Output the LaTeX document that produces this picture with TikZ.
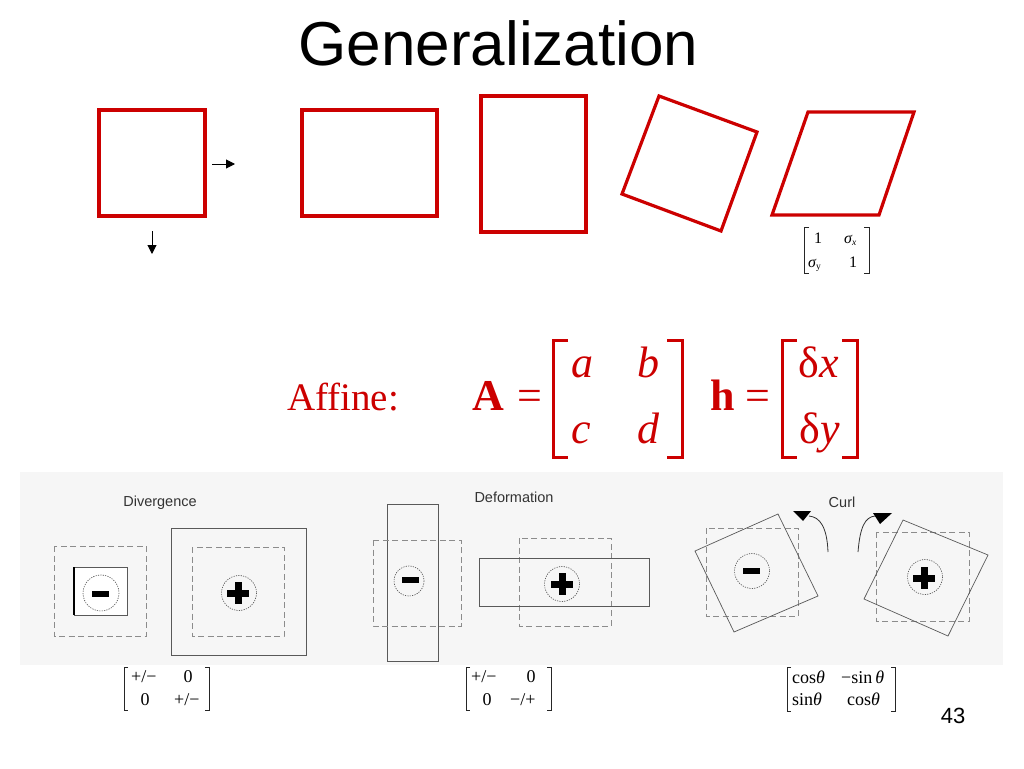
\documentclass[tikz,border=0pt]{standalone}
\usepackage{fontspec}
\setmainfont{Liberation Serif}
\newfontfamily\sansf{Liberation Sans}
\usetikzlibrary{arrows.meta}
\definecolor{affred}{RGB}{204,0,0}
\definecolor{panelbg}{RGB}{246,246,246}
\begin{document}
\begin{tikzpicture}[x=1pt,y=-1pt,
  redshape/.style={draw=affred, line width=3.2pt, line join=miter},
  blackarrow/.style={-{Triangle[length=9pt,width=9pt]}, line width=1pt},
  solidsq/.style={draw=black!65, line width=0.8pt},
  dashsq/.style={draw=black!45, line width=0.9pt, dash pattern=on 6pt off 3.5pt},
  dotcirc/.style={draw=black!70, line width=0.6pt, dash pattern=on 1.2pt off 1.2pt},
  txt/.style={inner sep=0pt, anchor=base},
  titlefont/.style={font=\sansf\fontsize{62}{70}\selectfont},
  panelfont/.style={font=\sansf\fontsize{14.5}{16}\selectfont, text=black!80},
  affbig/.style={text=affred, font=\fontsize{44}{50}\selectfont},
  afflab/.style={text=affred, font=\fontsize{39}{44}\selectfont},
  smallmat/.style={font=\fontsize{16}{18}\selectfont},
  botmat/.style={font=\fontsize{18}{20}\selectfont},
  redbracket/.style={draw=affred, line width=3pt},
  thinbracket/.style={draw=black!85, line width=0.9pt},
  plussign/.pic={\fill (-11,-3.5) rectangle (11,3.5); \fill (-3.5,-11) rectangle (3.5,11);},
  minussign/.pic={\fill (-8.5,-3) rectangle (8.5,3);}
]
\path[use as bounding box] (0,0) rectangle (1024,768);
\fill[white] (0,0) rectangle (1024,768);

% title
\node[txt, titlefont] (title) at (498.5,65) {Generalization};

% top row of red shapes
\draw[redshape] (99,110) rectangle (205,216);
\draw[redshape] (302,110) rectangle (437,216);
\draw[redshape] (481,96) rectangle (586,232);
\draw[redshape] (659,96) -- (757,132) -- (721,231) -- (622,194) -- cycle;
\draw[redshape] (808,112) -- (914,112) -- (879,215) -- (772,215) -- cycle;

% translation arrows
\coordinate (ra1) at (212,164); \coordinate (ra2) at (235,164);
\coordinate (da1) at (152,231); \coordinate (da2) at (152,254);
\draw[blackarrow] (ra1) -- (ra2);
\draw[blackarrow] (da1) -- (da2);

% small shear matrix
\draw[thinbracket] (809,227) -- (804,227) -- (804,273) -- (809,273);
\draw[thinbracket] (864,227) -- (869,227) -- (869,273) -- (864,273);
\node[txt, smallmat] (s11) at (818,243) {1};
\node[txt, smallmat, anchor=base west] (s12) at (844,243) {\itshape σ\raisebox{-2.5pt}{\fontsize{9.5}{10}\selectfont x}};
\node[txt, smallmat, anchor=base west] (s21) at (808,267) {\itshape σ\raisebox{-2.5pt}{\fontsize{9.5}{10}\selectfont\upshape y}};
\node[txt, smallmat] (s22) at (853,267) {1};

% affine line
\node[txt, afflab, anchor=base west] (affine) at (287,410) {Affine:};
\node[txt, affbig] (bA) at (488,410) {\textbf{A}};
\node[txt, affbig] (eq1) at (530,410) {=};
\draw[redbracket] (568,340) -- (553,340) -- (553,457) -- (568,457);
\draw[redbracket] (667,340) -- (682,340) -- (682,457) -- (667,457);
\node[txt, affbig] (ma) at (582,377) {\itshape a};
\node[txt, affbig] (mb) at (648,377) {\itshape b};
\node[txt, affbig] (mc) at (581,443) {\itshape c};
\node[txt, affbig] (md) at (648,443) {\itshape d};
\node[txt, affbig] (bh) at (722.5,410) {\textbf{h}};
\node[txt, affbig] (eq2) at (757.5,410) {=};
\draw[redbracket] (797,340) -- (782,340) -- (782,457) -- (797,457);
\draw[redbracket] (842,340) -- (857,340) -- (857,457) -- (842,457);
\node[txt, affbig] (dx) at (819,377) {δ\itshape x};
\node[txt, affbig] (dy) at (820,443) {δ\itshape y};

% bottom panel background
\fill[panelbg] (20,472) rectangle (1003,665);

% Divergence
\node[txt, panelfont, anchor=center] (divlab) at (160,503) {Divergence};
\draw[dashsq] (54,546) rectangle (146,636);
\fill[white] (74,567) rectangle (127,615);
\draw[solidsq] (74,567) rectangle (127,615);
\draw[black, line width=1.6pt] (74,567) -- (74,615);
\draw[dotcirc] (101,593) circle[radius=18];
\pic at (100.5,593.5) {minussign};
\draw[solidsq] (171,528) rectangle (306,655);
\draw[dashsq] (192,547) rectangle (284,636);
\draw[dotcirc] (239,593) circle[radius=17.5];
\pic at (238,593) {plussign};

% Deformation
\node[txt, panelfont, anchor=center] (deflab) at (514,497) {Deformation};
\draw[solidsq] (387,504) rectangle (438,661);
\draw[dashsq] (373,540) rectangle (461,626);
\draw[dotcirc] (409,581) circle[radius=15];
\pic at (410,580) {minussign};
\draw[dashsq] (519,538) rectangle (611,626);
\draw[solidsq] (479,558) rectangle (649,606);
\draw[dotcirc] (562,584) circle[radius=17.5];
\pic at (562,584) {plussign};

% Curl
\node[txt, panelfont, anchor=center] (curllab) at (842,502) {Curl};
\draw[dashsq] (706,528) rectangle (798,616);
\draw[solidsq, line width=0.7pt] (695,551) -- (778,514) -- (818,596) -- (734,632) -- cycle;
\draw[dotcirc] (752,571) circle[radius=17.5];
\pic at (751.5,571) {minussign};
\draw[dashsq] (876,532) rectangle (969,621);
\draw[solidsq, line width=0.7pt] (903,520) -- (988,555) -- (948,636) -- (864,599) -- cycle;
\draw[dotcirc] (925,577) circle[radius=17.5];
\pic at (924,578) {plussign};
% curl arrows
\coordinate (cl1) at (828,552); \coordinate (cl2) at (809,516);
\coordinate (cr1) at (858,552); \coordinate (cr2) at (875,516);
\draw[black!80, line width=0.8pt] (cl1) .. controls (827,527) and (820,517) .. (cl2);
\fill[black] (793,511) -- (811,511) -- (803,521) -- cycle;
\draw[black!80, line width=0.8pt] (cr1) .. controls (860,527) and (865,517) .. (cr2);
\fill[black] (873,513) -- (892,513) -- (880,524) -- cycle;

% bottom matrices
\draw[thinbracket] (128,667) -- (124,667) -- (124,710) -- (128,710);
\draw[thinbracket] (205,667) -- (209,667) -- (209,710) -- (205,710);
\node[txt, botmat, anchor=base west] (dv11) at (131,682) {+/−};
\node[txt, botmat] (dv12) at (188,682) {0};
\node[txt, botmat] (dv21) at (145,705) {0};
\node[txt, botmat, anchor=base west] (dv22) at (174,705) {+/−};

\draw[thinbracket] (470,667) -- (466,667) -- (466,710) -- (470,710);
\draw[thinbracket] (547,667) -- (551,667) -- (551,710) -- (547,710);
\node[txt, botmat, anchor=base west] (df11) at (471,682) {+/−};
\node[txt, botmat] (df12) at (531,682) {0};
\node[txt, botmat] (df21) at (487,705) {0};
\node[txt, botmat, anchor=base west] (df22) at (510,705) {−/+};

\draw[thinbracket] (791,667) -- (787,667) -- (787,711) -- (791,711);
\draw[thinbracket] (891,667) -- (895,667) -- (895,711) -- (891,711);
\node[txt, botmat, anchor=base west] (cu11) at (792,683) {cos\textit{θ}};
\node[txt, botmat, anchor=base west] (cu12) at (841,683) {−sin\,\textit{θ}};
\node[txt, botmat, anchor=base west] (cu21) at (792,705) {sin\textit{θ}};
\node[txt, botmat, anchor=base west] (cu22) at (847,705) {cos\textit{θ}};

% page number
\node[txt, font=\sansf\fontsize{22}{24}\selectfont] (pnum) at (953,723) {43};
\end{tikzpicture}
\end{document}
